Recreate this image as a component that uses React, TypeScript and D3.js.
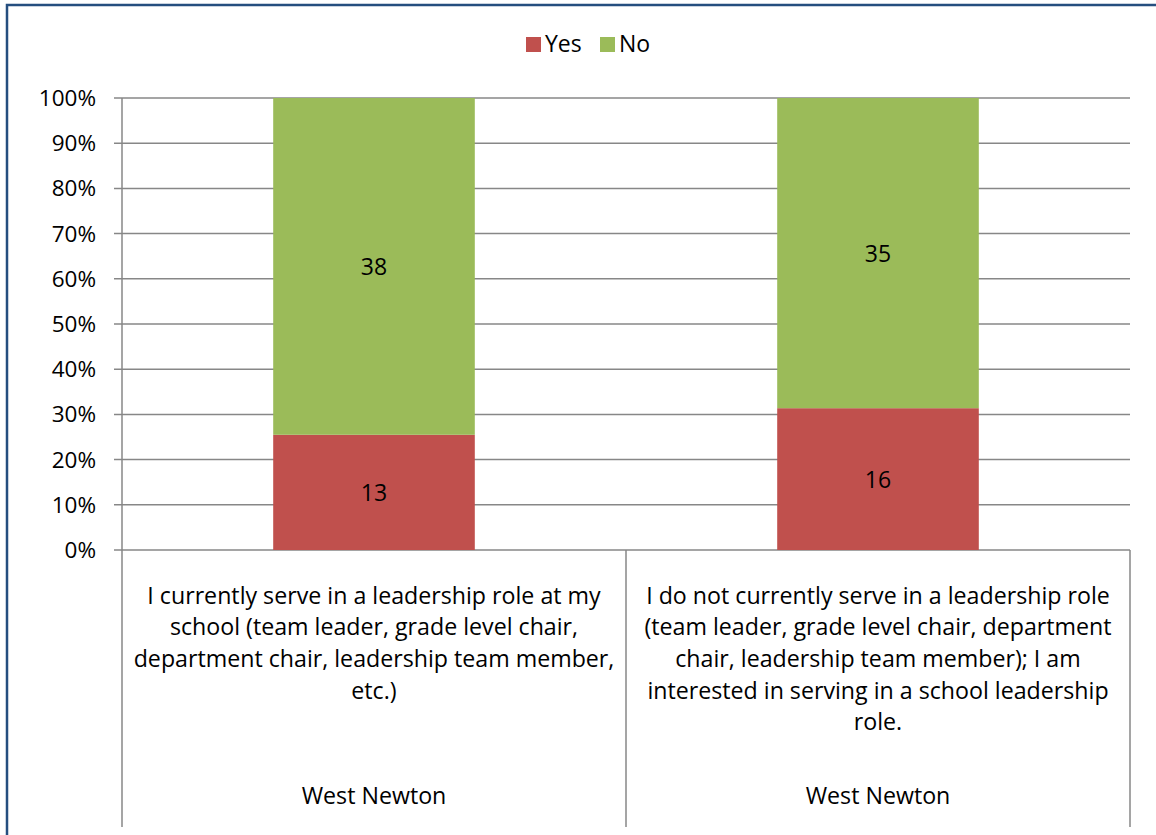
import React from "react";
import * as d3 from "d3";

const series = ["Yes", "No"];
const colors = ["#C0504D", "#9BBB59"];
const categories = ["c1", "c2"];
const yesValues = [13, 16];
const noValues = [38, 35];
const groupLabel = "West Newton";
const categoryLines = [
  [
    "I currently serve in a leadership role at my",
    "school (team leader, grade level chair,",
    "department chair, leadership team member,",
    "etc.)",
  ],
  [
    "I do not currently serve in a leadership role",
    "(team leader, grade level chair, department",
    "chair, leadership team member); I am",
    "interested in serving in a school leadership",
    "role.",
  ],
];
const yTicks = [0, 0.1, 0.2, 0.3, 0.4, 0.5, 0.6, 0.7, 0.8, 0.9, 1.0];

const W = 1156;
const H = 835;
const FONT = "'Open Sans', Lato, sans-serif";

export default function App() {
  const left = 122;
  const right = 1130;
  const top = 98;
  const bottom = 550;
  const axisBottom = 827;

  const x = d3.scaleBand<string>().domain(categories).range([left, right]).padding(0);
  const y = d3.scaleLinear().domain([0, 1]).range([bottom, top]);
  const pct = d3.format(".0%");

  const data = categories.map((c, i) => {
    const total = yesValues[i] + noValues[i];
    return { c, i, vals: [yesValues[i], noValues[i]], total };
  });
  const stack = d3.stack<any>().keys(["0", "1"]).value((d: any, k) => d.vals[+k] / d.total);
  const stacked = stack(data as any);

  const bw = x.bandwidth() * 0.4;
  const lineH = 31.7;

  return (
    <svg width={W} height={H} style={{ position: "absolute", left: 0, top: 0 }} fontFamily={FONT}>
      <rect x={0} y={0} width={W} height={H} fill="#fff" />
      <rect x={7} y={5} width={W + 20} height={H + 20} fill="none" stroke="#254E7F" strokeWidth={2.5} />
      {/* legend */}
      <g>
        {series.map((s, i) => {
          const lx = [526, 600][i];
          return (
            <g key={s}>
              <rect x={lx} y={37} width={15} height={15} fill={colors[i]} />
              <text x={lx + 19} y={52} fontSize={23} fill="#000">{s}</text>
            </g>
          );
        })}
      </g>
      {/* gridlines */}
      {yTicks.map((t) => (
        <g key={t}>
          <line x1={114} x2={right} y1={y(t)} y2={y(t)} stroke="#878787" strokeWidth={1.5} />
          <text x={96} y={y(t) + 8} textAnchor="end" fontSize={22.5} fill="#000">{pct(t)}</text>
        </g>
      ))}
      {/* bars */}
      {stacked.map((layer, si) =>
        layer.map((d: any, j) => {
          const cx = (x(categories[j]) as number) + x.bandwidth() / 2;
          const y0 = y(d[0]);
          const y1 = y(d[1]);
          return (
            <g key={si + "-" + j}>
              <rect x={cx - bw / 2} y={y1} width={bw} height={y0 - y1} fill={colors[si]} />
              <text x={cx} y={(y0 + y1) / 2 + 9} textAnchor="middle" fontSize={23} fill="#000">
                {data[j].vals[si]}
              </text>
            </g>
          );
        })
      )}
      {/* category axis */}
      {[left, ...categories.map((c) => (x(c) as number) + x.bandwidth())].map((vx, i) => (
        <line key={i} x1={vx} x2={vx} y1={i === 0 ? top : bottom} y2={axisBottom} stroke="#878787" strokeWidth={1.5} />
      ))}
      {categories.map((c, i) => {
        const cx = (x(c) as number) + x.bandwidth() / 2;
        return (
          <g key={c}>
            {categoryLines[i].map((ln, k) => (
              <text key={k} x={cx} y={603.5 + k * lineH} textAnchor="middle" fontSize={23.2} fill="#000">{ln}</text>
            ))}
            <text x={cx} y={804} textAnchor="middle" fontSize={23.2} fill="#000">{groupLabel}</text>
          </g>
        );
      })}
    </svg>
  );
}
